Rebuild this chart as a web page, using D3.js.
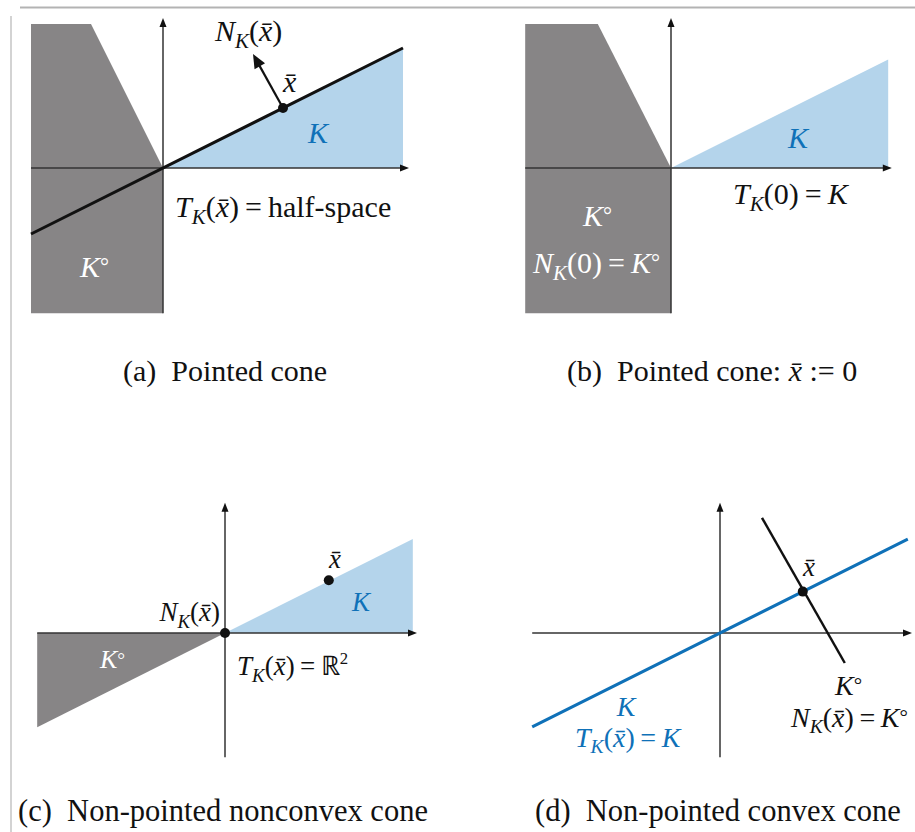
<!DOCTYPE html>
<html><head><meta charset="utf-8">
<script src="https://cdn.jsdelivr.net/npm/d3@7"></script>
</head>
<body style="margin:0;padding:0;background:#fff">
<div id="wrap" style="position:relative;width:915px;height:832px;overflow:hidden">
<svg id="chart" width="915" height="832" style="display:block;position:absolute;left:0;top:0"></svg>
<div id="labels" style="position:absolute;left:0;top:0;width:915px;height:832px"></div>
</div>
<script>
// ---------- data (math units, cone ray direction (2,1)) ----------
const panelNames = ["a", "b", "c", "d"];
const captionA = [["(a)  Pointed cone", "r"]];
const captionB = [["(b)  Pointed cone: ", "r"], ["x\u0304", "i"], [" := 0", "r"]];
const captionC = [["(c)  Non-pointed nonconvex cone", "r"]];
const captionD = [["(d)  Non-pointed convex cone", "r"]];

// panel (a)
const axisA = { x: [-2.2, 4.1], y: [-2.42, 2.5] };
const polarA = [[-2.2, 2.4], [-1.2, 2.4], [0, 0], [0, -2.42], [-2.2, -2.42]];
const coneA = [[0, 0], [4.0, 2.0], [4.0, 0]];
const lineA = [[-2.2, -1.1], [4.0, 2.0]];
const xbarA = [2, 1];
const normalA = [[2, 1], [1.5, 1.9]];
// panel (b)
const axisB = { x: [-2.43, 3.68], y: [-2.42, 2.5] };
const polarB = [[-2.43, 2.4], [-1.22, 2.4], [0, 0], [0, -2.42], [-2.43, -2.42]];
const coneB = [[0, 0], [3.62, 1.81], [3.62, 0]];
// panel (c)
const axisC = { x: [-3.13, 3.2], y: [-2.07, 2.17] };
const polarC = [[-3.13, 0], [0, 0], [-3.13, -1.57]];
const coneC = [[0, 0], [3.13, 1.565], [3.13, 0]];
const dotsC = [[0, 0], [1.73, 0.88]];
// panel (d)
const axisD = { x: [-3.13, 3.2], y: [-2.07, 2.17] };
const coneLineD = [[-3.13, -1.565], [3.13, 1.565]];
const polarLineD = [[0.7, 1.92], [2.08, -0.5]];
const dotsD = [[1.38, 0.69]];

// ---------- styles ----------
const GRAY = "#878586", BLUE_FILL = "#b4d4eb", BLUE = "#0f71b8", AXIS = "#333";
const FONT = "'Liberation Serif', 'Times New Roman', serif";
const svg = d3.select("#chart");
const overlay = d3.select("#labels");

// frame
svg.append("line").attr("x1", 20).attr("x2", 915).attr("y1", 7.5).attr("y2", 7.5)
  .attr("stroke", "#b3b3b3").attr("stroke-width", 2);
svg.append("line").attr("x1", 11).attr("x2", 11).attr("y1", 16).attr("y2", 832)
  .attr("stroke", "#c4c4c4").attr("stroke-width", 1.5);

function scales(ox, oy, unit) {
  return {
    x: d3.scaleLinear().domain([0, 1]).range([ox, ox + unit]),
    y: d3.scaleLinear().domain([0, 1]).range([oy, oy - unit])
  };
}
function poly(g, s, pts, fill) {
  g.append("path").attr("d", d3.line().x(d => s.x(d[0])).y(d => s.y(d[1]))(pts) + "Z")
    .attr("fill", fill).attr("stroke", "none");
}
function seg(g, s, pts, color, w) {
  g.append("path").attr("d", d3.line().x(d => s.x(d[0])).y(d => s.y(d[1]))(pts))
    .attr("fill", "none").attr("stroke", color).attr("stroke-width", w);
}
function arrowHead(g, x1, y1, x2, y2, len, hw, color) {
  const dx = x2 - x1, dy = y2 - y1, L = Math.hypot(dx, dy), ux = dx / L, uy = dy / L;
  const bx = x2 - ux * len, by = y2 - uy * len;
  g.append("path").attr("d", `M${x2},${y2}L${bx - uy * hw},${by + ux * hw}L${bx + uy * hw},${by - ux * hw}Z`)
    .attr("fill", color);
}
function axes(g, s, ax) {
  const x0 = s.x(ax.x[0]), x1 = s.x(ax.x[1]), y0 = s.y(ax.y[0]), y1 = s.y(ax.y[1]);
  g.append("line").attr("x1", x0).attr("x2", x1 - 3).attr("y1", s.y(0)).attr("y2", s.y(0))
    .attr("stroke", AXIS).attr("stroke-width", 1.5);
  g.append("line").attr("x1", s.x(0)).attr("x2", s.x(0)).attr("y1", y0).attr("y2", y1 + 3)
    .attr("stroke", AXIS).attr("stroke-width", 1.5);
  arrowHead(g, x0, s.y(0), x1, s.y(0), 9, 3.5, "#111");
  arrowHead(g, s.x(0), y0, s.x(0), y1, 9, 3.5, "#111");
}
function dot(g, s, p) {
  g.append("circle").attr("cx", s.x(p[0])).attr("cy", s.y(p[1])).attr("r", 5).attr("fill", "#111");
}
// HTML label with baseline at y. parts: [string, kind]
function mathText(g, x, y, parts, size, fill, anchor) {
  const d = overlay.append("div")
    .style("position", "absolute").style("left", x + "px").style("top", (y - 0.8375 * size) + "px")
    .style("font-family", FONT).style("font-size", size + "px").style("line-height", "1")
    .style("color", fill).style("white-space", "pre")
    .style("transform", anchor === "middle" ? "translateX(-50%)" : anchor === "end" ? "translateX(-100%)" : "none");
  parts.forEach(([str, kind]) => {
    const sp = d.append("span").text(str).style("font-family", FONT);
    if (kind === "i") sp.style("font-style", "italic");
    if (kind === "sub") sp.style("font-style", "italic").style("font-size", "70%")
      .style("position", "relative").style("top", "0.34em");
    if (kind === "sup") sp.style("font-size", "62%").style("position", "relative").style("top", "-0.68em");
    if (kind === "deg") sp.style("font-size", "75%").style("position", "relative").style("top", "-0.12em");
  });
  return d;
}
const XB = "x\u0304";
const EQ = "\u2009=\u2009";

// ---------- panel (a) ----------
{
  const g = svg.append("g"), s = scales(163, 168, 60);
  poly(g, s, polarA, GRAY);
  poly(g, s, coneA, BLUE_FILL);
  axes(g, s, axisA);
  seg(g, s, lineA, "#111", 3);
  const p0 = [s.x(normalA[0][0]), s.y(normalA[0][1])], p1 = [s.x(normalA[1][0]), s.y(normalA[1][1])];
  g.append("line").attr("x1", p0[0]).attr("y1", p0[1]).attr("x2", p1[0] + (p0[0] - p1[0]) * 0.15)
    .attr("y2", p1[1] + (p0[1] - p1[1]) * 0.15).attr("stroke", "#111").attr("stroke-width", 2.2);
  arrowHead(g, p0[0], p0[1], p1[0], p1[1], 14, 6, "#111");
  dot(g, s, xbarA);
  mathText(g, 215, 41, [["N", "i"], ["K", "sub"], ["(", "r"], [XB, "i"], [")", "r"]], 30, "#111");
  mathText(g, 283, 92, [[XB, "i"]], 30, "#111");
  mathText(g, 318, 143, [["K", "i"]], 30, BLUE, "middle");
  mathText(g, 175, 217, [["T", "i"], ["K", "sub"], ["(", "r"], [XB, "i"], [")" + EQ + "half-space", "r"]], 30, "#111");
  mathText(g, 80, 277, [["K", "i"], ["°", "deg"]], 30, "#fff");
  mathText(g, 123, 381, captionA, 30, "#111");
}
// ---------- panel (b) ----------
{
  const g = svg.append("g"), s = scales(671, 168, 60);
  poly(g, s, polarB, GRAY);
  poly(g, s, coneB, BLUE_FILL);
  axes(g, s, axisB);
  mathText(g, 798, 148, [["K", "i"]], 30, BLUE, "middle");
  mathText(g, 733, 204, [["T", "i"], ["K", "sub"], ["(0)" + EQ, "r"], ["K", "i"]], 30, "#111");
  mathText(g, 583, 226, [["K", "i"], ["°", "deg"]], 30, "#fff");
  mathText(g, 533, 273, [["N", "i"], ["K", "sub"], ["(0)" + EQ, "r"], ["K", "i"], ["°", "deg"]], 30, "#fff");
  mathText(g, 567, 381, captionB, 30, "#111");
}
// ---------- panel (c) ----------
{
  const g = svg.append("g"), s = scales(225, 633, 60);
  poly(g, s, polarC, GRAY);
  poly(g, s, coneC, BLUE_FILL);
  axes(g, s, axisC);
  dotsC.forEach(p => dot(g, s, p));
  mathText(g, 329, 569, [[XB, "i"]], 27, "#111");
  mathText(g, 352, 612, [["K", "i"]], 27, BLUE);
  mathText(g, 220, 622, [["N", "i"], ["K", "sub"], ["(", "r"], [XB, "i"], [")", "r"]], 27, "#111", "end");
  mathText(g, 237, 676, [["T", "i"], ["K", "sub"], ["(", "r"], [XB, "i"], [")" + EQ + "\u211D", "r"], ["2", "sup"]], 27, "#111");
  mathText(g, 100, 669, [["K", "i"], ["°", "deg"]], 26, "#fff");
  mathText(g, 18, 822, captionC, 30.5, "#111");
}
// ---------- panel (d) ----------
{
  const g = svg.append("g"), s = scales(720, 633, 60);
  axes(g, s, axisD);
  seg(g, s, coneLineD, BLUE, 3);
  seg(g, s, polarLineD, "#111", 2.5);
  dotsD.forEach(p => dot(g, s, p));
  mathText(g, 803, 577, [[XB, "i"]], 27, "#111");
  mathText(g, 626, 716, [["K", "i"]], 28, BLUE, "middle");
  mathText(g, 575, 747, [["T", "i"], ["K", "sub"], ["(", "r"], [XB, "i"], [")" + EQ, "r"], ["K", "i"]], 28, BLUE);
  mathText(g, 835, 695, [["K", "i"], ["°", "deg"]], 28, "#111");
  mathText(g, 791, 727, [["N", "i"], ["K", "sub"], ["(", "r"], [XB, "i"], [")" + EQ, "r"], ["K", "i"], ["°", "deg"]], 28, "#111");
  mathText(g, 535, 822, captionD, 30.5, "#111");
}
</script>
</body></html>
